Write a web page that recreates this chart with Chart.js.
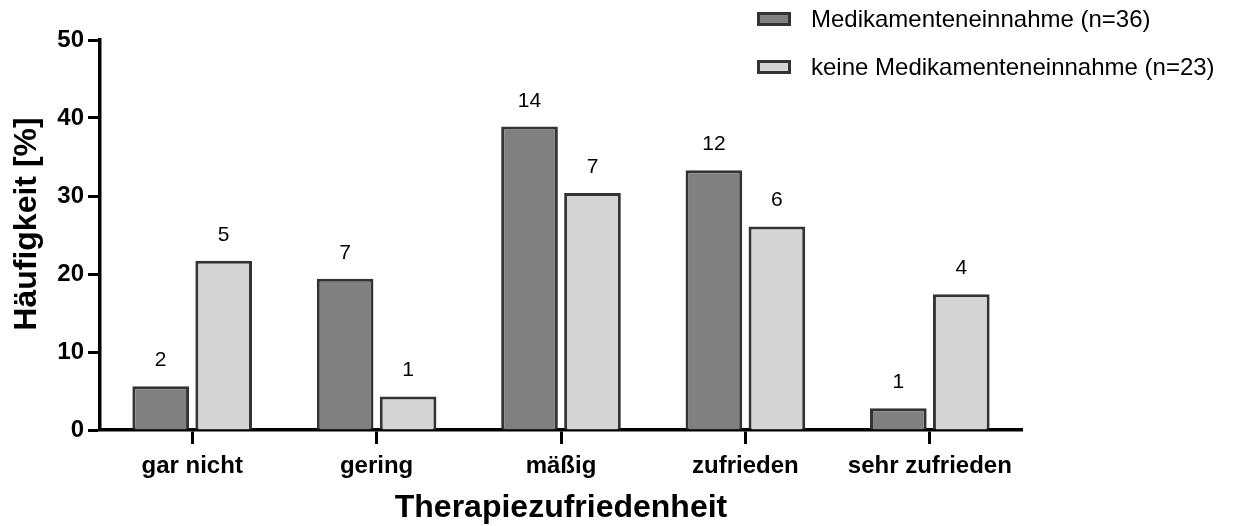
<!DOCTYPE html>
<html lang="de">
  <head>
    <meta charset="UTF-8" />
    <title>Therapiezufriedenheit</title>
    <script src="https://cdn.jsdelivr.net/npm/chart.js@4.4.1/dist/chart.umd.min.js"></script>
    <style>
      html,
      body {
        margin: 0;
        padding: 0;
        background: #ffffff;
      }

      .chart-wrapper {
        position: relative;
        width: 1235px;
        height: 526px;
      }
    </style>
  </head>
  <body>
    <div class="chart-wrapper">
      <canvas id="chart"></canvas>
    </div>

    <script>
      // Daten
      const categories = ["gar nicht", "gering", "mäßig", "zufrieden", "sehr zufrieden"];
      const seriesNames = ["Medikamenteneinnahme (n=36)", "keine Medikamenteneinnahme (n=23)"];
      const medPercent = [5.6, 19.4, 38.9, 33.3, 2.8];
      const noMedPercent = [21.7, 4.3, 30.4, 26.1, 17.4];
      const medCounts = [2, 7, 14, 12, 1];
      const noMedCounts = [5, 1, 7, 6, 4];
      const yTicks = [0, 10, 20, 30, 40, 50];
      const yTitle = "Häufigkeit [%]";

      const FONT = '"Liberation Sans", Arial, sans-serif';
      const BORDER = "#333333";

      // Anzahl über den Balken
      const countLabels = {
        id: "countLabels",
        afterDatasetsDraw(chart) {
          const ctx = chart.ctx;
          ctx.save();
          ctx.font = "21px " + FONT;
          ctx.fillStyle = "#000";
          ctx.textAlign = "center";
          ctx.textBaseline = "alphabetic";
          chart.data.datasets.forEach((ds, i) => {
            chart.getDatasetMeta(i).data.forEach((bar, j) => {
              ctx.fillText(String(ds.counts[j]), bar.x, bar.y - 20);
            });
          });
          ctx.restore();
        },
      };

      // Legende oben rechts + y-Achsentitel (etwas über der Mitte, wie im Original)
      const extras = {
        id: "extras",
        afterDraw(chart) {
          const ctx = chart.ctx;
          ctx.save();
          ctx.font = "24px " + FONT;
          ctx.textBaseline = "middle";
          chart.data.datasets.forEach((ds, i) => {
            const y = 12 + i * 48;
            ctx.fillStyle = ds.backgroundColor;
            ctx.fillRect(758, y + 1, 32, 12);
            ctx.lineWidth = 3;
            ctx.strokeStyle = BORDER;
            ctx.strokeRect(758.5, y + 1.5, 31, 11);
            ctx.fillStyle = "#000";
            ctx.fillText(ds.label, 811, y + 8);
          });

          ctx.translate(27, 224);
          ctx.rotate(-Math.PI / 2);
          ctx.font = "bold 32px " + FONT;
          ctx.textAlign = "center";
          ctx.fillStyle = "#000";
          ctx.fillText(yTitle, 0, 0);
          ctx.restore();
        },
      };

      new Chart(document.getElementById("chart"), {
        type: "bar",
        data: {
          labels: categories,
          datasets: [
            {
              label: seriesNames[0],
              data: medPercent,
              counts: medCounts,
              backgroundColor: "#808080",
              borderColor: BORDER,
              borderWidth: 3,
            },
            {
              label: seriesNames[1],
              data: noMedPercent,
              counts: noMedCounts,
              backgroundColor: "#d4d4d4",
              borderColor: BORDER,
              borderWidth: 3,
            },
          ],
        },
        options: {
          responsive: true,
          maintainAspectRatio: false,
          animation: false,
          datasets: {
            bar: { categoryPercentage: 0.683, barPercentage: 0.9 },
          },
          layout: { padding: { top: 40, right: 213, left: 0, bottom: 0 } },
          plugins: {
            legend: { display: false },
            tooltip: { enabled: false },
          },
          scales: {
            x: {
              grid: {
                display: true,
                drawOnChartArea: false,
                offset: false,
                tickLength: 14,
                tickWidth: 3,
                tickColor: "#000",
              },
              border: { display: true, width: 3.5, color: "#000" },
              ticks: {
                color: "#000",
                font: { family: FONT, size: 24, weight: "bold" },
                padding: 8,
                maxRotation: 0,
              },
              title: {
                display: true,
                text: "Therapiezufriedenheit",
                color: "#000",
                font: { family: FONT, size: 32, weight: "bold" },
                padding: { top: 0, bottom: -1 },
              },
              afterFit(scale) {
                scale.height = 96;
              },
            },
            y: {
              min: yTicks[0],
              max: yTicks[yTicks.length - 1],
              ticks: {
                stepSize: yTicks[1] - yTicks[0],
                color: "#000",
                font: { family: FONT, size: 24, weight: "bold" },
                padding: 4,
              },
              grid: {
                display: true,
                drawOnChartArea: false,
                tickLength: 12,
                tickWidth: 3,
                tickColor: "#000",
              },
              border: { display: true, width: 3.5, color: "#000" },
              afterFit(scale) {
                scale.width = 100;
              },
            },
          },
        },
        plugins: [countLabels, extras],
      });
    </script>
  </body>
</html>
